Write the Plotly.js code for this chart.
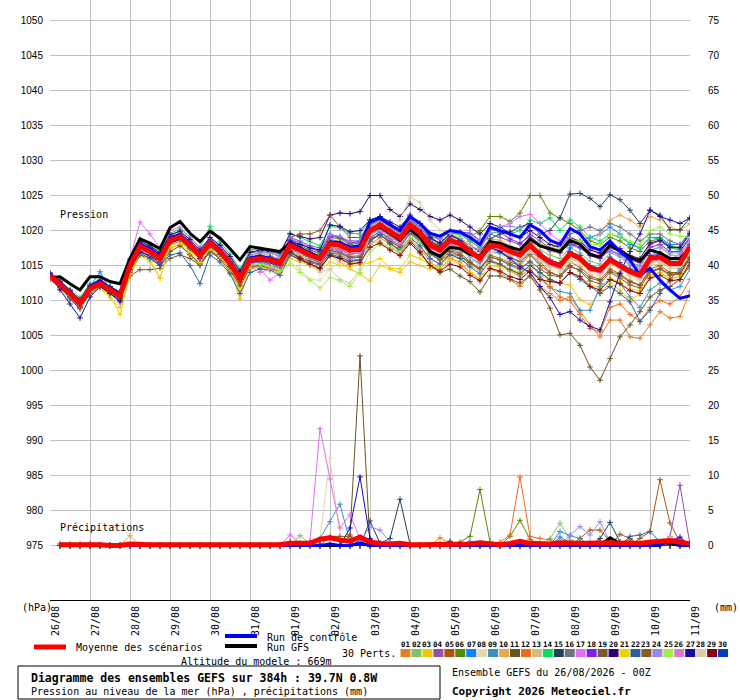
<!DOCTYPE html>
<html><head><meta charset="utf-8">
<script src="https://cdn.plot.ly/plotly-3.0.1.min.js"></script>
<style>body{margin:0;background:#fff}#c{width:740px;height:700px}</style>
</head><body><div id="c"></div>
<script>
const hours=[0,6,12,18,24,30,36,42,48,54,60,66,72,78,84,90,96,102,108,114,120,126,132,138,144,150,156,162,168,174,180,186,192,198,204,210,216,222,228,234,240,246,252,258,264,270,276,282,288,294,300,306,312,318,324,330,336,342,348,354,360,366,372,378,384];
const dayTicks=[0,24,48,72,96,120,144,168,192,216,240,264,288,312,336,360,384];
const dayLabels=['26/08','27/08','28/08','29/08','30/08','31/08','01/09','02/09','03/09','04/09','05/09','06/09','07/09','08/09','09/09','10/09','11/09'];
const pTicks=[975,980,985,990,995,1000,1005,1010,1015,1020,1025,1030,1035,1040,1045,1050];
const mmTicks=[0,5,10,15,20,25,30,35,40,45,50,55,60,65,70,75];
const memberNames=['01','02','03','04','05','06','07','08','09','10','11','12','13','14','15','16','17','18','19','20','21','22','23','24','25','26','27','28','29','30'];
const memberColors=['#e67e22','#7dc36b','#f1c40f','#8e52b0','#b0520c','#5a8a00','#0a84ff','#e8d8b0','#3a8fc0','#e8a850','#6b5320','#f06a20','#d0c080','#10d860','#234058','#6b7580','#e070f0','#7c20f0','#7a5a30','#2e0070','#f0d000','#2b6099','#8a5a20','#9a88ee','#a0f040','#d878d8','#1c0aa0','#dccaa8','#8a0010','#0a3cc0'];

const pMean=[1013.6,1012.4,1011.0,1009.6,1011.7,1012.4,1011.5,1010.7,
1015.0,1017.7,1017.0,1016.0,1018.6,1019.1,1017.9,1016.4,
1018.2,1017.0,1015.3,1013.1,1015.8,1016.0,1015.8,1015.3,
1017.9,1017.2,1016.5,1016.0,1018.1,1017.9,1017.2,1017.3,
1020.0,1020.8,1019.8,1018.9,1020.8,1019.6,1017.9,1017.2,
1018.6,1018.1,1017.0,1016.0,1017.9,1017.7,1017.0,1016.5,
1017.9,1016.5,1015.5,1015.0,1016.7,1016.0,1014.6,1014.3,
1015.8,1015.0,1014.1,1013.6,1016.0,1016.2,1015.3,1015.3,1017.7];
const pCtrl=[1013.8,1012.6,1011.2,1009.8,1012.0,1012.8,1011.8,1011.0,
1015.4,1018.0,1017.4,1016.4,1019.0,1019.4,1018.2,1016.6,
1018.5,1017.2,1015.5,1013.4,1016.1,1016.3,1016.0,1015.5,
1018.2,1017.4,1016.8,1016.2,1018.4,1018.3,1017.6,1017.8,
1021.2,1021.8,1020.8,1020.0,1022.0,1021.0,1019.6,1019.2,
1020.0,1019.8,1019.0,1018.0,1020.5,1020.0,1019.4,1019.0,
1020.8,1020.0,1018.6,1018.0,1020.3,1019.5,1017.7,1017.2,
1018.5,1017.0,1015.8,1013.6,1014.6,1012.9,1011.5,1010.3,1010.7];
const pGfs=[1013.3,1013.4,1012.4,1011.5,1013.4,1013.4,1012.7,1012.4,
1016.0,1018.8,1018.2,1017.4,1020.4,1021.3,1019.6,1018.4,
1019.9,1018.9,1017.4,1015.8,1017.7,1017.5,1017.3,1017.0,
1018.2,1017.5,1016.6,1016.1,1018.3,1018.1,1017.4,1017.5,
1019.9,1020.5,1019.6,1018.6,1020.2,1019.0,1017.0,1016.3,
1017.6,1017.4,1016.6,1016.3,1018.4,1018.2,1017.6,1017.2,
1018.8,1017.8,1017.4,1017.0,1018.6,1018.0,1016.6,1016.2,
1017.9,1017.0,1016.2,1015.6,1017.2,1016.8,1016.0,1016.0,1017.6];

const p01=[1013.8,1012.0,1010.5,1009.0,1011.5,1012.6,1011.0,1010.0,
1014.0,1016.5,1016.0,1015.0,1017.5,1018.0,1016.5,1015.0,
1017.0,1016.0,1014.0,1012.0,1014.5,1015.0,1014.5,1014.0,
1016.5,1016.0,1015.0,1014.5,1016.5,1016.0,1015.5,1015.5,
1018.0,1019.0,1018.0,1016.5,1018.5,1017.5,1015.5,1014.5,
1016.0,1015.5,1014.0,1013.0,1014.5,1014.0,1013.0,1012.0,
1013.5,1012.0,1011.0,1010.0,1010.5,1008.5,1006.5,1004.8,
1007.2,1007.2,1004.8,1004.6,1006.5,1008.4,1007.5,1007.7,1011.3];
const p02=[1013.9,1012.8,1011.5,1010.0,1012.0,1012.8,1012.0,1011.2,
1015.8,1018.5,1017.8,1016.8,1019.3,1019.8,1018.6,1017.0,
1018.8,1017.6,1016.0,1013.8,1016.5,1016.8,1016.4,1016.0,
1018.5,1017.6,1017.2,1016.6,1018.8,1018.4,1017.8,1018.0,
1020.5,1021.4,1020.2,1019.5,1021.0,1020.0,1018.6,1017.8,
1019.0,1018.8,1017.6,1016.5,1018.5,1018.2,1017.4,1017.2,
1018.5,1017.2,1016.5,1016.0,1017.5,1016.8,1015.6,1015.2,
1016.8,1016.2,1015.0,1014.8,1017.0,1017.6,1016.5,1016.4,1018.5];
const p03=[1013.4,1012.2,1010.6,1009.2,1011.0,1011.8,1010.4,1009.0,
1013.5,1016.5,1015.5,1013.2,1017.5,1018.0,1016.5,1015.0,
1017.0,1016.0,1014.5,1010.2,1014.8,1015.0,1014.8,1014.0,
1016.0,1015.5,1015.0,1014.5,1016.5,1015.5,1014.5,1013.8,
1012.8,1015.0,1014.5,1014.0,1015.5,1015.0,1014.5,1015.0,
1016.5,1016.0,1015.5,1014.5,1015.5,1015.0,1014.5,1014.0,
1015.0,1014.0,1013.0,1012.5,1012.2,1010.1,1009.4,1011.0,
1012.5,1011.5,1010.0,1011.0,1013.5,1014.0,1013.0,1013.5,1016.0];
const p04=[1013.5,1012.6,1011.3,1010.2,1012.2,1012.6,1011.8,1011.0,
1015.5,1018.2,1017.5,1016.5,1019.0,1019.5,1018.3,1016.8,
1018.6,1017.8,1016.0,1014.0,1016.8,1017.0,1016.8,1016.3,
1019.0,1018.5,1017.8,1017.5,1019.5,1019.0,1018.5,1018.5,
1021.5,1022.0,1021.0,1020.0,1022.0,1021.0,1019.5,1018.8,
1020.0,1019.8,1018.5,1017.5,1019.5,1019.0,1018.5,1018.0,
1019.5,1018.5,1017.5,1017.0,1018.0,1017.5,1016.5,1016.0,
1017.5,1017.0,1016.0,1015.5,1018.0,1018.5,1017.5,1017.5,1019.5];
const p05=[1013.2,1012.0,1010.4,1009.0,1011.2,1012.0,1011.0,1010.2,
1014.2,1017.0,1016.2,1015.2,1018.0,1018.5,1017.2,1015.8,
1017.5,1016.2,1014.5,1012.5,1015.0,1015.2,1015.0,1014.5,
1017.0,1016.5,1015.5,1015.0,1017.0,1016.8,1016.0,1016.2,
1019.0,1019.8,1018.8,1017.8,1019.8,1018.5,1016.8,1015.8,
1016.5,1016.5,1015.2,1014.5,1016.5,1016.0,1015.5,1015.0,
1016.5,1015.5,1014.0,1013.5,1015.5,1014.8,1013.5,1013.0,
1014.5,1013.8,1012.8,1012.2,1014.5,1015.0,1014.0,1014.0,1016.5];
const p06=[1013.7,1012.6,1011.2,1010.0,1011.8,1012.5,1011.6,1010.8,
1015.4,1018.0,1017.4,1016.4,1019.0,1019.5,1018.2,1016.8,
1018.6,1017.5,1015.8,1013.6,1016.2,1016.5,1016.2,1015.8,
1018.5,1017.8,1017.2,1016.8,1019.0,1018.8,1018.0,1018.2,
1020.8,1021.5,1020.5,1019.6,1021.5,1020.5,1019.2,1018.8,
1019.8,1019.5,1019.0,1020.0,1022.0,1022.0,1021.3,1022.5,
1025.0,1025.0,1022.5,1021.8,1021.0,1020.0,1018.5,1018.0,
1019.0,1018.5,1017.5,1017.0,1018.5,1018.8,1017.8,1017.5,1019.0];
const p07=[1014.0,1012.5,1010.8,1009.5,1012.0,1014.1,1011.5,1010.5,
1014.5,1017.0,1016.5,1015.5,1018.0,1018.5,1017.5,1015.8,
1017.8,1016.5,1014.8,1012.5,1015.2,1015.5,1015.0,1014.8,
1017.2,1016.8,1016.0,1015.5,1017.6,1017.2,1016.6,1016.8,
1019.5,1020.2,1019.2,1018.2,1020.2,1019.0,1017.2,1016.5,
1018.0,1017.5,1016.2,1015.2,1017.0,1016.8,1016.0,1015.5,
1017.0,1016.0,1015.0,1014.5,1017.5,1018.5,1019.0,1019.5,
1020.5,1019.5,1018.0,1017.5,1019.0,1019.0,1018.0,1018.0,1019.8];
const p08=[1013.5,1012.2,1010.8,1009.4,1011.5,1012.2,1011.2,1010.5,
1014.8,1017.5,1016.6,1015.6,1018.2,1018.8,1017.4,1015.8,
1017.6,1016.4,1014.6,1012.4,1014.8,1014.6,1014.2,1013.6,
1015.5,1014.5,1013.0,1012.9,1014.5,1015.5,1015.0,1015.5,
1018.5,1019.5,1018.5,1017.5,1019.5,1018.5,1016.8,1016.0,
1017.5,1017.0,1016.0,1015.0,1017.0,1016.5,1015.8,1015.5,
1016.8,1015.5,1014.5,1014.0,1015.5,1015.0,1013.8,1013.5,
1015.0,1014.2,1013.2,1012.8,1015.2,1015.5,1014.6,1014.6,1016.8];
const p09=[1013.3,1012.0,1010.5,1009.2,1011.6,1012.4,1011.4,1010.4,
1014.6,1017.4,1016.6,1015.5,1018.3,1018.6,1017.4,1015.9,
1017.8,1016.6,1015.0,1012.8,1015.4,1015.6,1015.3,1014.8,
1017.4,1016.7,1016.0,1015.3,1017.4,1017.0,1016.3,1016.4,
1019.0,1019.8,1018.6,1017.8,1019.8,1018.4,1016.8,1016.0,
1017.4,1016.8,1015.6,1014.5,1016.2,1015.8,1015.0,1014.4,
1015.5,1013.5,1011.8,1011.3,1011.0,1008.6,1008.6,1012.0,
1013.0,1012.5,1010.5,1009.0,1011.5,1012.5,1011.5,1012.0,1014.5];
const p10=[1013.6,1012.6,1011.4,1010.2,1012.0,1012.6,1011.8,1011.0,
1015.2,1017.8,1017.2,1016.2,1018.8,1019.2,1018.0,1016.6,
1018.4,1017.2,1015.6,1013.4,1016.0,1016.2,1016.0,1015.6,
1018.2,1017.6,1016.9,1016.4,1018.6,1018.4,1017.6,1017.8,
1020.4,1021.2,1020.2,1019.4,1021.4,1020.2,1018.6,1018.0,
1019.4,1019.0,1018.0,1017.0,1018.8,1018.6,1017.8,1017.4,
1018.8,1017.8,1017.0,1016.8,1018.5,1018.5,1018.0,1019.5,
1021.5,1022.2,1021.5,1020.5,1022.0,1021.5,1020.5,1020.0,1021.0];
const p11=[1013.0,1011.8,1010.2,1008.8,1011.0,1012.0,1011.0,1010.0,
1014.0,1016.5,1016.0,1015.0,1017.0,1017.8,1016.6,1015.2,
1017.2,1016.0,1014.3,1012.2,1014.8,1015.0,1014.6,1014.0,
1016.5,1016.0,1015.4,1015.0,1016.8,1016.5,1015.8,1015.8,
1018.5,1019.5,1018.2,1017.0,1018.5,1017.0,1015.0,1014.0,
1014.5,1013.5,1012.7,1011.2,1013.5,1013.5,1013.0,1012.5,
1013.5,1011.5,1008.9,1005.1,1005.3,1003.6,1000.5,998.6,
1001.7,1004.8,1006.5,1008.4,1010.5,1011.5,1012.0,1013.0,1015.0];
const p12=[1013.8,1012.5,1011.0,1009.8,1011.9,1012.5,1011.6,1010.9,
1015.0,1017.6,1016.9,1015.9,1018.4,1019.0,1017.8,1016.3,
1018.0,1016.8,1015.1,1012.9,1015.6,1015.8,1015.5,1015.0,
1017.6,1016.8,1016.2,1015.6,1017.6,1017.4,1016.6,1016.8,
1019.6,1020.4,1019.4,1018.4,1020.2,1018.8,1017.0,1016.2,
1017.2,1016.6,1015.4,1014.4,1015.8,1015.2,1014.2,1013.5,
1014.5,1013.0,1012.0,1010.5,1010.0,1008.0,1006.0,1005.5,
1009.0,1009.5,1008.0,1007.0,1009.0,1010.0,1009.5,1010.5,1013.0];
const p13=[1013.4,1012.3,1010.9,1009.5,1011.6,1012.3,1011.4,1010.6,
1014.6,1017.2,1016.4,1015.4,1018.0,1018.5,1017.3,1015.8,
1017.5,1016.3,1014.6,1012.5,1015.0,1015.2,1015.0,1014.5,
1017.0,1016.5,1015.8,1015.2,1017.0,1016.6,1015.8,1015.8,
1018.0,1018.5,1017.5,1016.8,1018.5,1017.6,1016.0,1015.2,
1016.2,1016.0,1015.0,1014.2,1016.0,1016.0,1015.6,1015.2,
1016.5,1015.6,1014.8,1014.5,1016.0,1015.5,1014.5,1014.0,
1015.2,1014.6,1013.6,1013.2,1015.0,1015.2,1014.8,1015.0,1016.5];
const p14=[1013.8,1012.8,1011.6,1010.4,1012.4,1013.0,1012.0,1011.2,
1015.8,1018.8,1018.0,1017.0,1019.6,1020.2,1019.0,1017.6,
1020.6,1018.4,1016.6,1014.5,1017.2,1017.4,1017.0,1016.6,
1019.6,1019.0,1018.4,1017.8,1020.6,1020.4,1019.6,1019.5,
1021.5,1022.0,1020.8,1019.8,1021.8,1020.5,1018.8,1018.2,
1019.6,1019.4,1018.5,1017.6,1019.6,1019.8,1019.5,1020.0,
1021.5,1021.0,1021.8,1020.0,1021.5,1020.5,1019.0,1018.5,
1019.5,1019.0,1018.2,1017.5,1019.0,1018.8,1017.5,1017.2,1018.8];
const p15=[1013.5,1012.4,1011.1,1009.8,1011.9,1012.5,1011.7,1010.9,
1015.2,1017.8,1017.2,1016.2,1018.7,1019.2,1018.1,1016.6,
1018.4,1017.2,1015.5,1013.3,1016.0,1016.3,1016.0,1015.6,
1018.2,1017.6,1016.9,1016.3,1018.4,1018.2,1017.5,1017.6,
1020.2,1021.0,1020.0,1019.2,1021.2,1020.0,1018.4,1017.8,
1019.2,1018.8,1017.8,1017.0,1018.8,1019.5,1019.8,1020.5,
1021.0,1019.5,1020.0,1021.8,1025.2,1025.3,1024.6,1023.4,
1025.1,1024.4,1022.9,1021.0,1022.9,1022.2,1020.1,1020.1,1021.8];
const p16=[1013.6,1012.3,1010.9,1009.5,1011.6,1012.3,1011.4,1010.6,
1014.9,1017.6,1016.9,1015.9,1018.5,1019.0,1017.8,1016.3,
1018.1,1016.9,1015.2,1013.0,1015.7,1015.9,1015.7,1015.2,
1017.8,1017.1,1016.4,1015.9,1018.0,1017.8,1017.1,1017.2,
1019.8,1020.6,1019.6,1018.7,1020.6,1019.4,1017.7,1017.0,
1018.4,1018.0,1016.8,1015.8,1017.8,1017.6,1017.0,1016.6,
1018.5,1018.0,1017.5,1018.0,1019.5,1020.0,1020.5,1020.0,
1021.0,1020.5,1019.5,1018.5,1019.5,1019.5,1018.5,1018.0,1019.5];
const p17=[1013.6,1012.6,1011.2,1009.8,1012.0,1012.8,1011.8,1011.0,
1016.0,1021.2,1019.5,1017.5,1020.0,1020.5,1019.0,1017.5,
1019.0,1017.8,1015.8,1013.6,1015.5,1014.5,1012.9,1014.0,
1016.5,1016.0,1015.5,1015.0,1017.0,1016.8,1016.0,1016.2,
1018.8,1019.5,1018.5,1017.8,1019.8,1019.0,1017.5,1017.0,
1018.5,1018.5,1017.8,1017.2,1020.0,1020.5,1021.0,1022.0,
1022.3,1021.0,1019.5,1018.5,1019.0,1018.5,1017.5,1016.5,
1017.0,1016.5,1015.0,1014.5,1016.5,1017.0,1016.0,1016.5,1018.5];
const p18=[1013.7,1012.5,1011.1,1009.7,1011.8,1012.5,1011.6,1010.8,
1015.3,1018.2,1017.4,1016.3,1018.9,1019.4,1018.2,1016.7,
1018.5,1017.3,1015.6,1013.4,1016.1,1016.4,1016.2,1015.8,
1018.7,1018.2,1017.5,1017.0,1019.2,1019.0,1018.2,1018.4,
1021.0,1021.8,1020.8,1020.0,1021.6,1020.4,1018.8,1018.2,
1019.5,1019.8,1019.6,1018.6,1020.2,1019.8,1018.8,1018.2,
1019.2,1018.0,1017.2,1016.8,1018.2,1017.6,1016.4,1016.0,
1017.2,1016.6,1015.8,1015.4,1017.6,1018.0,1017.0,1017.0,1019.0];
const p19=[1013.2,1012.0,1010.6,1009.2,1011.3,1012.0,1011.2,1010.4,
1013.5,1014.4,1014.4,1014.6,1016.0,1016.5,1016.0,1015.0,
1017.0,1016.0,1014.4,1012.2,1014.6,1014.8,1014.6,1014.2,
1016.8,1016.2,1015.6,1015.2,1017.2,1016.8,1016.2,1016.2,
1018.8,1019.4,1018.4,1017.6,1019.6,1018.4,1016.6,1015.8,
1017.0,1016.4,1015.4,1014.6,1016.2,1015.8,1015.2,1014.6,
1015.6,1014.5,1013.6,1013.4,1014.8,1014.4,1013.2,1012.8,
1014.2,1013.6,1012.6,1012.2,1014.2,1014.6,1013.8,1013.8,1016.0];
const p20=[1013.8,1012.7,1011.4,1010.1,1012.1,1012.8,1012.0,1011.2,
1015.6,1018.4,1017.8,1016.8,1019.4,1019.9,1018.7,1017.2,
1019.0,1017.9,1016.3,1014.2,1016.9,1017.2,1017.0,1016.8,
1019.5,1019.2,1018.8,1019.0,1022.2,1022.5,1022.4,1022.7,
1025.0,1025.0,1023.0,1022.0,1023.8,1023.0,1022.0,1021.5,
1022.2,1021.5,1020.5,1019.5,1021.0,1020.5,1019.6,1019.0,
1020.0,1019.0,1018.0,1017.6,1019.0,1018.4,1017.2,1016.8,
1018.0,1017.4,1016.4,1016.0,1018.2,1018.6,1017.6,1017.6,1019.6];
const p21=[1013.6,1012.3,1010.7,1009.3,1011.2,1011.9,1010.8,1008.0,
1013.8,1016.8,1015.8,1013.2,1017.8,1018.3,1016.9,1015.4,
1017.4,1016.2,1014.2,1011.5,1014.6,1014.8,1014.5,1014.0,
1016.4,1015.8,1015.0,1014.4,1015.5,1015.0,1014.8,1015.2,
1015.4,1016.0,1014.6,1014.5,1016.5,1016.0,1015.0,1014.5,
1015.8,1015.2,1014.0,1013.2,1015.0,1014.8,1014.2,1013.8,
1015.0,1013.8,1012.8,1012.5,1014.0,1013.5,1012.2,1011.8,
1013.2,1012.6,1011.6,1011.4,1013.5,1014.0,1013.2,1013.4,1015.8];
const p22=[1013.4,1012.0,1010.5,1009.0,1011.4,1012.4,1011.2,1010.2,
1014.4,1016.8,1016.0,1015.0,1016.5,1016.8,1015.0,1012.4,
1016.5,1015.5,1013.8,1011.0,1014.0,1014.5,1014.4,1013.6,
1016.5,1015.8,1015.2,1014.6,1016.6,1016.2,1015.6,1015.8,
1018.5,1019.4,1018.2,1017.2,1019.0,1017.8,1016.0,1015.2,
1016.6,1016.0,1014.8,1013.8,1015.6,1015.2,1014.4,1013.8,
1015.0,1014.0,1013.0,1012.5,1014.0,1013.0,1012.0,1011.0,
1012.0,1011.0,1009.8,1007.0,1008.6,1011.0,1013.0,1014.5,1016.0];
const p23=[1013.5,1012.2,1010.8,1009.4,1011.5,1012.2,1011.3,1010.5,
1014.8,1017.4,1016.8,1015.8,1018.4,1018.9,1017.6,1016.1,
1017.9,1016.7,1015.0,1012.8,1015.5,1015.7,1015.5,1015.0,
1019.0,1019.5,1019.5,1020.0,1022.2,1020.5,1019.0,1019.0,
1021.0,1021.5,1020.6,1019.8,1021.4,1020.2,1018.4,1017.6,
1018.6,1017.8,1016.6,1015.6,1017.4,1017.0,1016.2,1015.6,
1016.6,1015.0,1014.0,1013.5,1015.0,1014.2,1012.8,1012.4,
1014.0,1013.2,1012.2,1011.8,1014.0,1014.5,1013.6,1013.8,1016.2];
const p24=[1013.7,1012.5,1011.2,1009.9,1011.9,1012.6,1011.7,1010.9,
1015.3,1018.0,1017.3,1016.3,1018.9,1019.4,1018.2,1016.7,
1018.5,1017.4,1015.7,1013.6,1016.3,1016.8,1016.8,1016.3,
1018.9,1018.3,1017.6,1017.2,1019.4,1019.2,1018.4,1018.6,
1020.8,1021.4,1020.4,1019.6,1021.4,1020.4,1019.0,1018.8,
1020.0,1019.8,1019.2,1018.6,1020.2,1020.6,1020.6,1020.4,
1020.8,1019.6,1018.6,1018.0,1019.0,1018.2,1016.8,1016.2,
1017.2,1016.4,1015.4,1015.0,1017.2,1017.6,1016.8,1016.8,1018.8];
const p25=[1013.5,1012.3,1010.9,1009.6,1011.7,1012.4,1011.5,1010.7,
1015.0,1017.7,1017.0,1016.0,1018.5,1019.0,1017.8,1016.2,
1018.0,1016.8,1015.0,1013.0,1015.2,1015.2,1014.8,1014.2,
1015.2,1014.0,1012.9,1011.8,1013.3,1012.8,1012.0,1014.0,
1017.0,1018.0,1017.4,1017.0,1019.0,1018.4,1017.0,1016.4,
1017.6,1017.4,1016.6,1016.0,1018.0,1018.0,1017.6,1017.4,
1018.5,1018.0,1017.5,1017.5,1018.5,1018.5,1018.0,1018.0,
1019.5,1019.2,1018.5,1018.0,1020.0,1020.5,1019.5,1019.2,1019.0];
const p26=[1013.6,1012.5,1011.0,1009.7,1011.8,1012.5,1011.6,1010.8,
1015.1,1017.9,1017.1,1016.1,1018.7,1019.2,1018.0,1016.5,
1018.3,1017.0,1015.0,1012.8,1015.0,1014.0,1014.5,1014.8,
1017.4,1016.9,1016.2,1015.8,1017.6,1017.2,1016.7,1016.8,
1019.4,1020.0,1019.0,1018.2,1020.0,1019.0,1017.4,1016.8,
1018.0,1017.6,1016.6,1015.6,1017.4,1017.2,1016.6,1016.2,
1017.4,1016.2,1015.2,1014.7,1016.4,1015.8,1014.4,1014.0,
1015.5,1014.8,1013.8,1013.2,1015.5,1015.8,1015.0,1015.0,1017.5];
const p27=[1013.6,1011.5,1009.5,1007.5,1010.5,1012.0,1011.0,1009.8,
1014.4,1017.0,1016.4,1015.4,1018.2,1018.7,1017.5,1016.0,
1017.8,1016.6,1014.9,1012.7,1015.4,1015.7,1015.4,1015.0,
1018.5,1018.0,1017.5,1017.2,1020.8,1020.6,1019.8,1020.0,
1021.5,1022.0,1021.2,1020.5,1022.2,1021.0,1019.0,1018.2,
1019.5,1018.6,1017.4,1016.2,1017.6,1017.0,1016.0,1014.8,
1014.0,1012.0,1010.4,1008.0,1008.4,1007.2,1006.3,1005.8,
1009.8,1013.9,1017.0,1019.5,1022.9,1022.0,1021.5,1021.0,1021.8];
const p28=[1013.4,1012.2,1010.8,1009.4,1011.6,1012.3,1011.4,1010.6,
1014.8,1017.4,1016.7,1015.7,1018.4,1018.9,1017.7,1016.2,
1018.0,1016.8,1015.1,1012.8,1015.6,1015.8,1015.5,1015.1,
1017.6,1016.8,1015.0,1014.0,1014.5,1013.0,1012.5,1014.5,
1019.5,1021.0,1020.5,1021.5,1024.8,1024.0,1021.5,1020.0,
1019.6,1019.0,1017.8,1016.6,1018.0,1017.6,1016.6,1016.0,
1017.0,1015.8,1014.8,1014.4,1016.0,1015.4,1014.2,1013.8,
1015.4,1014.6,1013.6,1013.0,1015.4,1015.6,1014.8,1014.8,1017.2];
const p29=[1013.5,1012.3,1010.9,1009.5,1011.6,1012.3,1011.4,1010.6,
1014.9,1017.6,1016.9,1015.9,1018.5,1019.0,1017.8,1016.3,
1018.1,1016.9,1015.2,1013.0,1015.7,1015.9,1015.7,1015.2,
1017.0,1016.0,1015.2,1014.6,1016.4,1016.0,1015.2,1015.4,
1017.6,1018.2,1017.2,1016.4,1018.2,1016.8,1015.0,1014.2,
1015.2,1014.8,1013.6,1012.8,1014.6,1014.2,1013.4,1013.0,
1014.2,1013.0,1012.7,1012.5,1014.0,1013.4,1012.0,1011.5,
1013.0,1012.4,1011.4,1011.0,1013.2,1013.6,1012.8,1013.0,1015.4];
const p30=[1013.7,1012.6,1011.2,1009.8,1011.8,1012.6,1011.7,1010.9,
1015.2,1017.9,1017.2,1016.2,1018.8,1019.3,1018.1,1016.6,
1018.4,1017.2,1015.5,1013.3,1016.0,1016.2,1016.0,1015.5,
1018.0,1017.4,1016.7,1016.2,1018.2,1018.0,1017.4,1017.5,
1020.2,1021.0,1020.0,1019.0,1020.8,1019.8,1018.2,1017.5,
1018.8,1018.4,1017.3,1016.3,1018.2,1018.0,1017.3,1016.8,
1018.2,1016.8,1015.8,1015.3,1017.0,1016.4,1015.0,1014.6,
1016.2,1015.4,1014.5,1014.0,1016.4,1016.6,1015.6,1015.6,1018.0];

// precipitation (mm / 6h), first value = analysis time (not drawn)
const rMean=[0,0.1,0.1,0.1,0.2,0.1,0,0, 0.2,0.1,0.1,0.1,0.1,0.1,0,0, 0,0,0,0,0,0,0,0.1, 0.3,0.3,0.3,0.9,1.1,0.8,0.6,1.2, 0.5,0.3,0.2,0.3,0.1,0.1,0.1,0.2, 0.2,0.1,0.2,0.4,0.2,0.1,0.3,0.6, 0.3,0.2,0.2,0.4,0.3,0.3,0.3,0.4, 0.4,0.3,0.3,0.3,0.5,0.6,0.7,0.5,0.2];
const rCtrl=[0,0,0,0,0,0,0,0, 0,0,0,0,0,0,0,0, 0,0,0,0,0,0,0,0, 0,0,0,0,0.2,0,0,0.3, 0,0,0,0,0,0,0,0, 0,0,0,0,0,0,0,0, 0,0,0,0,0,0,0,0, 0,0,0,0,0,0,0.8,0,0];
const rGfs=[0,0,0,0,0,0,0,0, 0.1,0,0,0,0,0,0,0, 0,0,0,0,0,0,0,0, 0,0,0,0,0,0,0,0.3, 0,0,0,0,0,0,0,0, 0,0,0,0,0,0,0,0, 0,0,0,0,0,0,0,0, 1.1,0.3,0,0,0.4,0.5,0.3,0,0];
const r01=[0,0,0,0,0,0,0,0, 0,0.2,0,0,0,0,0,0, 0,0,0,0,0,0,0,0, 0,0,0,0,0,0,0,0, 0,0,0,0,0,0,0,1.1, 0.3,0,0,0,0,0,0,0, 0,0,0,0,0,0,0,0, 0,0.5,0.8,0,0,0,0,0,0];
const r02=[0,0,0.3,0,0,0,0,0, 0,0,0,0,0,0,0,0, 0,0,0,0,0,0,0,0, 0,1.4,0.3,0,0,0,0,0, 0,0,0,0,0,0,0,0, 0,0,0,0,0,0,0,0, 0,0,1.0,3.2,0.8,0.3,0,0, 0,0,0,0,0,0,0,0,0];
const r03=[0,0,0,0,0,0,0,0, 0,0,0,0,0,0,0,0, 0,0,0,0,0,0,0,0, 0,0,0,0,0.3,0,0,0, 0,0,0,0,0,0,0,0, 0,0,0,0,0,0,0,0, 0,0,0,0.8,0.5,0,0,0, 0,0,0,0,0.3,0,0,0,0];
const r04=[0,0,0,0,0,0,0,0, 0,0,0,0,0,0,0,0, 0,0,0,0,0,0,0,0, 0,0,0,0,0,0,0,0, 0,0,0,0,0,0,0,0, 0,0,0,0,0,0,0,0, 0,0,0,0,0,0,0,0, 0,0,0,0,0,0.2,1.3,8.6,0.1];
const r05=[0,0,0,0,0,0,0,0, 0,0,0,0,0,0,0,0, 0,0,0,0,0,0,0,0, 0,0,0,0,0,0,0,0, 0,0,0,0,0,0,0,0, 0,0,0,0,0,0,0,0, 0,0,0,0,0,1.0,2.2,2.2, 0.6,0,0,1.0,2.0,9.4,3.2,0.5,0];
const r06=[0,0,0,0,0,0,0,0, 0,0,0,0,0,0,0,0, 0,0,0,0,0,0,0,0, 0,0,0,0,0,0,0,0, 0,0,0,0,0,0,0,0, 0,0.5,1.3,8.0,0.5,0,1.3,3.6, 0.9,0,0,0,0,0,0,0, 0,0,0,0,0,0,0,0,0];
const r07=[0,0,0,0,0.3,0,0,0, 0,0,0,0,0,0,0,0, 0,0,0,0,0,0,0,0, 0,0,0.5,0,0,0,0,0, 0,0,0,0,0,0,0,0, 0,0,0.6,0,0,0,0,0, 0,0,0,1.2,0.4,0,0,0, 0,0,0,0,0,0,0,0,0];
const r08=[0,0,0,0,0,0,0,0, 0.2,0.2,0,0,0,0,0,0, 0,0,0,0,0,0,0,0, 0,0,0,1.0,12.5,1.0,0,0, 0,0,0,0,0,0,0,0, 0,0,0,0,0,0,0,0, 0,0,0,0,0,0,0,0, 0,0,0,0,0,0,0,0,0];
const r09=[0,0,0,0,0,0,0,0, 0,0,0,0,0,0,0,0, 0,0,0,0,0,0,0,0, 0,0,0,1.0,3.4,5.9,0.5,0, 0,0,0,0,0,0,0,0, 0,0,0,0,0,0,0,0, 0,0,0,2.0,1.4,1.0,0,0, 0,0,0,0,0,0,0,0,0];
const r10=[0,0,0,0,0,0,0,0, 1.4,0,0,0,0,0,0,0, 0,0,0,0,0,0,0,0, 0,0,0,0,0,0,0,0, 0,0,0,0,0,0,0,0, 0,0,0,0,0,0,0,0, 0,0,0,0,0.5,0,0,0, 0,0,0,0,0,0,0,0,0];
const r11=[0,0,0,0,0,0,0,0, 0,0,0,0,0,0,0,0, 0,0,0,0,0,0,0,0, 0,0,0,0,0,0,1.5,27.1, 0.3,0,0,0,0,0,0,0, 0,0,0,0,0,0,0,0, 0,0,0,0,0,0,0,0, 0,0,0,0,0,0,0,0,0];
const r12=[0,0,0,0,0,0,0,0, 0,0,0,0,0,0,0,0, 0,0,0,0,0,0,0,0, 0,0,0,0,0,0,0,0, 0,0,0,0,0,0,0,0.3, 0,0,0,0,0,0.5,1.5,9.8, 1.3,1.0,0.8,0,0,0,0,0, 0,0,0,0,0,0,0,0,0];
const r13=[0,0,0,0,0,0,0,0, 0,0,0,0,0,0,0,0, 0,0,0,0,0,0,0,0, 0,0,0,0.3,0,0,0,0, 0,0,0,0,0,0,0,0, 0,0,0,0,0,0,0,0, 0,0,0,0,0,0,0,0.5, 0,0,0,0,0,0,0,0,0];
const r14=[0,0.3,0,0,0,0,0,0, 0,0,0,0,0,0,0,0, 0,0,0,0,0,0,0,0, 0,0,0,0,0,0,0,0, 0,0,0,0,0,0,0,0, 0.4,0,0,0.3,0,0,0,0, 0,0,0,0,0,0,0,0, 0,0,0,0,0,0,0,0,0];
const r15=[0,0,0,0,0,0,0,0, 0,0,0,0,0,0,0,0, 0,0,0,0,0,0,0,0, 0.5,0,0,0,0,0,0,0, 3.5,0.3,1.0,6.6,0.2,0,0,0, 0.6,0,0,0,0,0,0,0, 0,0,0,0,0,0,0,1.0, 3.3,0.5,0,0,0,0,0,0,0];
const r16=[0,0,0,0,0,0,0,0, 0,0,0,0,0,0,0,0, 0,0,0,0,0,0,0,0, 0,0,0,0,0,0,0,0, 0,0,0,0,0,0,0,0, 0,0,0,0,0,0,0,0, 0,0,0,0,0,0,0,0, 0.4,0,0,0,0,0,0,0,0];
const r17=[0,0,0,0,0,0,0,0, 0,0,0,0,0,0,0,0, 0,0,0,0,0,0,0,0, 1.5,0.4,0.6,16.7,9.5,2.5,4.4,1.0, 0.3,0,0,0,0,0,0,0, 0,0,0,0,0,0,0,0, 0,0,0,0,0,0,0.6,0, 0,0,0,0,0,0,0,0,0];
const r18=[0,0,0,0,0,0,0,0, 0,0,0,0,0,0,0,0, 0,0,0,0,0,0,0,0, 0,0,0,0,0,0,0,0, 0,0.4,0,0,0,0,0,0, 0,0,0,0,0,0,0,0, 0,0,0,0,0,0,0,0.5, 0,0,0,0,0,0,0,0,0];
const r19=[0,0,0,0,0,0,0,0, 0,0,0,0,0,0,0,0, 0,0,0,0,0,0,0,0, 0,0,0,0,0,0,0,0, 0,0,0,0,0,0,0,0, 0,0,0,0,0,0,0,0, 0,0,0,0,0,0,0,0, 0,1.6,1.0,0,0,0,0,0,0];
const r20=[0,0,0,0,0,0,0,0, 0,0,0,0,0,0,0,0, 0,0,0,0,0,0,0,0, 0,0,0,0,0,0,0,0.6, 0,0,0,0,0,0,0,0, 0,0,0,0,0,0,0,0, 0,0,0,0,0,0,0,0, 0,0,0,0,0,0,0,0,0.3];
const r21=[0,0,0,0,0,0,0,0, 0,0,0,0,0,0,0,0, 0,0,0,0,0,0,0,0, 0,0,0,0,0,0,0,0, 0,0,0,0,0,0,0,0, 0,0,0,0.3,0,0,0,0, 0,0,0,0,0,0,0,0, 0,0,0,0,0,0,0,0.4,0];
const r22=[0,0,0,0,0,0,0,0, 0,0,0,0,0,0,0,0, 0,0,0,0,0,0,0,0, 0,0,0,0,0,0,0,0, 0,0,0,0,0,0,0,0, 0,0,0,0,0,0,0,0, 0,0,0,0,0,0,0,0, 0,0,1.3,1.5,2.0,0.5,0,0,0];
const r23=[0,0,0,0,0,0,0,0, 0,0,0,0,0,0,0,0, 0,0,0,0,0,0,0,0, 0,0,0,0,1.3,1.3,1.3,0.3, 0,0,0,0,0,0,0,0, 0,0,0,0,0,0,0,0, 0,0,0,0,0,0,0,0, 0,0,0,0,0,0,0,0,0];
const r24=[0,0,0,0,0,0,0,0, 0,0,0,0,0,0,0,0, 0,0,0,0,0,0,0,0, 0,0,0,0,0,0,0,0.5, 2.7,2.2,0.5,0,0,0,0,0, 0,0,0,0,0,0,0,0, 0,0,0,0,1.5,2.7,1.5,3.4, 0.5,0,0,0,0,0,0,0,0];
const r25=[0,0,0,0,0,0,0,0, 0,0,0,0,0,0,0,0, 0,0,0,0,0,0,0,0, 0,0,0,0,0,0,0,0, 0,0,0,0,0,0,0,0, 0,0,0,0,0.3,0,0,0, 0,0,0,0,0,0,0,0, 0,0,0,0,0,0,0.5,0,0];
const r26=[0,0,0,0.3,0,0,0,0, 0,0,0,0,0,0,0,0, 0,0,0,0,0,0,0,0, 0,0.4,0,0,0,0,0,0, 0,0,0,0,0,0,0,0, 0,0,0,0,0,0,0,0, 0,0,0,0,0,0,0,0, 0,0,0,0,0,0,1.0,1.0,0];
const r27=[0,0,0,0,0,0,0,0, 0,0,0,0,0,0,0,0, 0,0,0,0,0,0,0,0, 0,0,0,0,0,0,2.5,9.8, 1.0,0,0,0,0,0,0,0, 0,0,0,0,0,0,0,0, 0,0,0,0,0,0,0,0, 0,0,0,0,0,0,0.5,1.2,0];
const r28=[0,0,0,0,0,0,0,0, 0,0,0,0,0,0,0,0, 0,0,0,0,0,0,0,0, 0,0,0,0,0,0,0,0, 0,0,0,0,0,0,0,0, 0,0,0,0,0,0,0,0, 0,0,0,0,0,0,0,0, 0,0,0,0,0,0,1.2,0,0];
const r29=[0,0,0,0,0,0,0,0, 0,0,0,0,0,0,0,0, 0,0,0,0,0,0,0,0, 0.2,0,0,0,0,0,0,0, 0,0,0,0,0,0,0,0, 0,0,0,0,0,0,0,0, 0,0,0,0,0,0,0,0, 0,0,0,0,0,0,0,0,0];
const r30=[0,0,0,0,0,0,0,0, 0,0,0,0,0,0,0,0, 0,0,0,0,0,0,0,0, 0,0,0.3,0,0,0,0,0, 0,0,0,0,0,0,0,0, 0,0,0,0,0,0,0,0, 0,0,0,0.3,0,0,0,0, 0,0,0,0,0,0,0,0,0];

const presMembers=[p01,p02,p03,p04,p05,p06,p07,p08,p09,p10,p11,p12,p13,p14,p15,p16,p17,p18,p19,p20,p21,p22,p23,p24,p25,p26,p27,p28,p29,p30];
const precMembers=[r01,r02,r03,r04,r05,r06,r07,r08,r09,r10,r11,r12,r13,r14,r15,r16,r17,r18,r19,r20,r21,r22,r23,r24,r25,r26,r27,r28,r29,r30];

const MONO='DejaVu Sans Mono, Liberation Mono, monospace';
const SANS='Liberation Sans, Arial, sans-serif';
const traces=[];
const precHours=hours.slice(1);
function member(x,y,color,axis){
  return {x:x,y:y,type:'scatter',mode:'lines+markers',yaxis:axis,
    line:{color:color,width:1},
    marker:{symbol:'cross-thin',size:4,color:color,line:{color:color,width:1}},
    hoverinfo:'skip',showlegend:false};
}
for(let k=0;k<30;k++){traces.push(member(precHours,precMembers[k].slice(1),memberColors[k],'y2'));}
for(let k=0;k<30;k++){traces.push(member(hours,presMembers[k],memberColors[k],'y'));}
function main(x,y,color,w,axis){return {x:x,y:y,type:'scatter',mode:'lines',yaxis:axis,line:{color:color,width:w},hoverinfo:'skip',showlegend:false};}
traces.push(main(precHours,rGfs.slice(1),'#000000',3,'y2'));
traces.push(main(precHours,rCtrl.slice(1),'#0000ff',3,'y2'));
traces.push(main(hours,pGfs,'#000000',3,'y'));
traces.push(main(hours,pCtrl,'#0000ff',3,'y'));
traces.push(main(precHours,rMean.slice(1),'#ff0000',5,'y2'));
traces.push(main(hours,pMean,'#ff0000',5,'y'));

// pixel helpers for layout decorations
const L=50,T=0,W=640,H=600;
const X=px=>(px-L)/W, Y=py=>(T+H-py)/H;
const ann=[], shp=[];
function txt(x,y,t,opt){opt=opt||{};ann.push({xref:'paper',yref:'paper',x:X(x),y:Y(y),text:t,showarrow:false,
  xanchor:opt.xa||'left',yanchor:'middle',font:{family:opt.f||MONO,size:opt.s||10,color:'black'}});}
function line(x0,x1,y,c,w){shp.push({type:'line',xref:'paper',yref:'paper',x0:X(x0),x1:X(x1),y0:Y(y),y1:Y(y),line:{color:c,width:w}});}
txt(58,215,'Pression');
txt(58,527,'Précipitations');
txt(20,607,'(hPa)');
txt(712,607,'(mm)');
line(34,66,647,'#ff0000',5);
txt(74,647,'Moyenne des scénarios');
line(225,257,636,'#0000ff',4);
txt(265,637,'Run de contrôle');
line(225,257,646,'#000000',4);
txt(265,647,'Run GFS');
txt(340,653,'30 Perts.');
txt(179,661,'Altitude du modele : 669m');
for(let k=0;k<30;k++){
  const x0=400.5+k*10.95;
  shp.push({type:'rect',xref:'paper',yref:'paper',x0:X(x0),x1:X(x0+10),y0:Y(649),y1:Y(657),line:{width:0},fillcolor:memberColors[k]});
  txt(x0+5,644,'<b>'+memberNames[k]+'</b>',{xa:'center',s:7.5});
}
shp.push({type:'rect',xref:'paper',yref:'paper',x0:X(18),x1:X(440),y0:Y(666),y1:Y(699),line:{color:'#000',width:1},fillcolor:'rgba(0,0,0,0)'});
txt(29,678,'<b>Diagramme des ensembles GEFS sur 384h : 39.7N 0.8W</b>',{s:11.5});
txt(29,691,'Pression au niveau de la mer (hPa) , précipitations (mm)');
txt(450,672,'Ensemble GEFS du 26/08/2026 - 00Z');
txt(450,691,'<b>Copyright 2026 Meteociel.fr</b>',{s:11});

const layout={width:740,height:700,margin:{l:L,r:50,t:T,b:100},paper_bgcolor:'#fff',plot_bgcolor:'#fff',
  showlegend:false,hovermode:false,
  xaxis:{range:[0,384],tickvals:dayTicks,ticktext:dayLabels,tickangle:-90,showgrid:true,gridcolor:'#c0c0c0',gridwidth:1,
    zeroline:false,showline:true,linecolor:'#000',linewidth:1,ticks:'',tickfont:{family:MONO,size:10,color:'#000'},ticklabelshift:6,ticklabelstandoff:1},
  yaxis:{range:[967.21,1052.93],tickvals:pTicks,showgrid:true,gridcolor:'#c0c0c0',gridwidth:1,zeroline:false,showline:false,ticks:'',
    tickfont:{family:SANS,size:10,color:'#000'},ticklabelstandoff:6},
  yaxis2:{range:[-7.79,77.93],tickvals:mmTicks,overlaying:'y',side:'right',showgrid:false,zeroline:false,showline:false,ticks:'',
    tickfont:{family:SANS,size:10,color:'#000'},ticklabelstandoff:17},
  annotations:ann,shapes:shp};
Plotly.newPlot('c',traces,layout,{staticPlot:true,displayModeBar:false});
</script></body></html>
